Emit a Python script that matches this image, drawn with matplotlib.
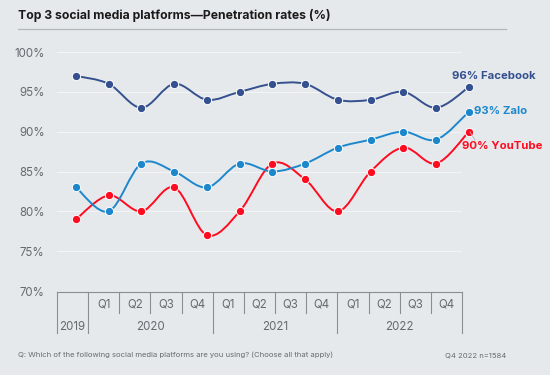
import numpy as np
import matplotlib.pyplot as plt
from matplotlib.path import Path
from matplotlib.patches import PathPatch

# data
quarters = ['', 'Q1', 'Q2', 'Q3', 'Q4', 'Q1', 'Q2', 'Q3', 'Q4', 'Q1', 'Q2', 'Q3', 'Q4']
years = ['2019', '2020', '2021', '2022']
year_spans = [(0, 1), (1, 5), (5, 9), (9, 13)]
facebook = [97, 96, 93, 96, 94, 95, 96, 96, 94, 94, 95, 93, 95.6]
zalo = [83, 80, 86, 85, 83, 86, 85, 86, 88, 89, 90, 89, 92.5]
youtube = [79, 82, 80, 83, 77, 80, 86, 84, 80, 85, 88, 86, 90]
yticks = [70, 75, 80, 85, 90, 95, 100]

bg = '#e6e9ec'
c_fb = '#34508f'
c_za = '#1d87cc'
c_yt = '#ff0b1f'
grey = '#666a70'

plt.rcParams['font.family'] = ['Inter', 'DejaVu Sans']

W, H = 550, 375
fig = plt.figure(figsize=(5.5, 3.75), dpi=100, facecolor=bg)


def fx(px):
    return px / W


def fy(py):
    return 1 - py / H


# main plot area (pixels: x 57..462, y 52..291)
ax = fig.add_axes([fx(57), fy(291), fx(462 - 57), fy(52) - fy(291)])
ax.set_facecolor(bg)
ax.set_ylim(70, 100)
ax.set_xlim(-0.58, 11.79)
for s in ax.spines.values():
    s.set_visible(False)
ax.set_xticks([])
ax.set_yticks(yticks)
ax.set_yticklabels([f'{v}%' for v in yticks], color=grey, fontsize=8.3)
ax.tick_params(axis='y', length=0, pad=9)
for v in yticks[1:]:
    ax.axhline(v, color='#f3f4f6', lw=0.8, zorder=0)


def smooth_path(xs, ys):
    # catmull-rom as cubic bezier segments
    pts = np.column_stack([xs, ys]).astype(float)
    verts = [pts[0]]
    codes = [Path.MOVETO]
    n = len(pts)
    for i in range(n - 1):
        p0 = pts[max(i - 1, 0)]
        p1 = pts[i]
        p2 = pts[i + 1]
        p3 = pts[min(i + 2, n - 1)]
        verts += [p1 + (p2 - p0) / 6, p2 - (p3 - p1) / 6, p2]
        codes += [Path.CURVE4] * 3
    return Path(verts, codes)


x = np.arange(len(quarters))
for ser, col in [(youtube, c_yt), (zalo, c_za), (facebook, c_fb)]:
    ax.add_patch(PathPatch(smooth_path(x, ser), fc='none', ec=col, lw=1.4,
                           clip_on=False, zorder=3))
    ax.plot(x, ser, 'o', color=col, ms=6, mec='white', mew=0.7,
            clip_on=False, zorder=4)

# end labels
fig.text(fx(452), fy(76), '96% Facebook', color=c_fb, fontsize=8.2, fontweight='bold', va='center')
fig.text(fx(474), fy(111), '93% Zalo', color=c_za, fontsize=8.2, fontweight='bold', va='center')
fig.text(fx(462), fy(146), '90% YouTube', color=c_yt, fontsize=8.2, fontweight='bold', va='center')
fig.add_artist(plt.Line2D([fx(470), fx(475)], [fy(132), fy(140)], color='#b0b4b8', lw=0.6))

# category table below the plot (pixels x 57..462, y 292..333)
left, step = 57, (462 - 57) / 13
top, mid, bot = 292, 313, 333
tcol = '#8a8e93'
fig.add_artist(plt.Line2D([fx(left), fx(462)], [fy(top), fy(top)], color=tcol, lw=0.8))
year_edges = {0, 1, 5, 9, 13}
for i in range(14):
    xp = left + i * step
    yb = bot if i in year_edges else mid
    fig.add_artist(plt.Line2D([fx(xp), fx(xp)], [fy(top), fy(yb)], color=tcol, lw=0.8))
for i, q in enumerate(quarters):
    if q:
        fig.text(fx(left + (i + 0.5) * step), fy(304), q, color=grey, fontsize=8.3,
                 ha='center', va='center')
for yr, (a, b) in zip(years, year_spans):
    fig.text(fx(left + (a + b) / 2 * step), fy(327), yr, color=grey, fontsize=8.3,
             ha='center', va='center')

# title and footer
fig.text(fx(18), fy(16), 'Top 3 social media platforms\u2014Penetration rates (%)',
         fontsize=8.8, fontweight='bold', color='#1a1a1a', va='center')
fig.add_artist(plt.Line2D([fx(18), fx(506)], [fy(29), fy(29)], color='#b4b7bb', lw=0.9))
fig.text(fx(18), fy(355), 'Q: Which of the following social media platforms are you using? (Choose all that apply)',
         fontsize=5.5, color=grey, va='center')
fig.text(fx(506), fy(355), 'Q4 2022 n=1584', fontsize=5.5, color=grey, va='center', ha='right')

fig.savefig('out.png', dpi=100, facecolor=bg)
